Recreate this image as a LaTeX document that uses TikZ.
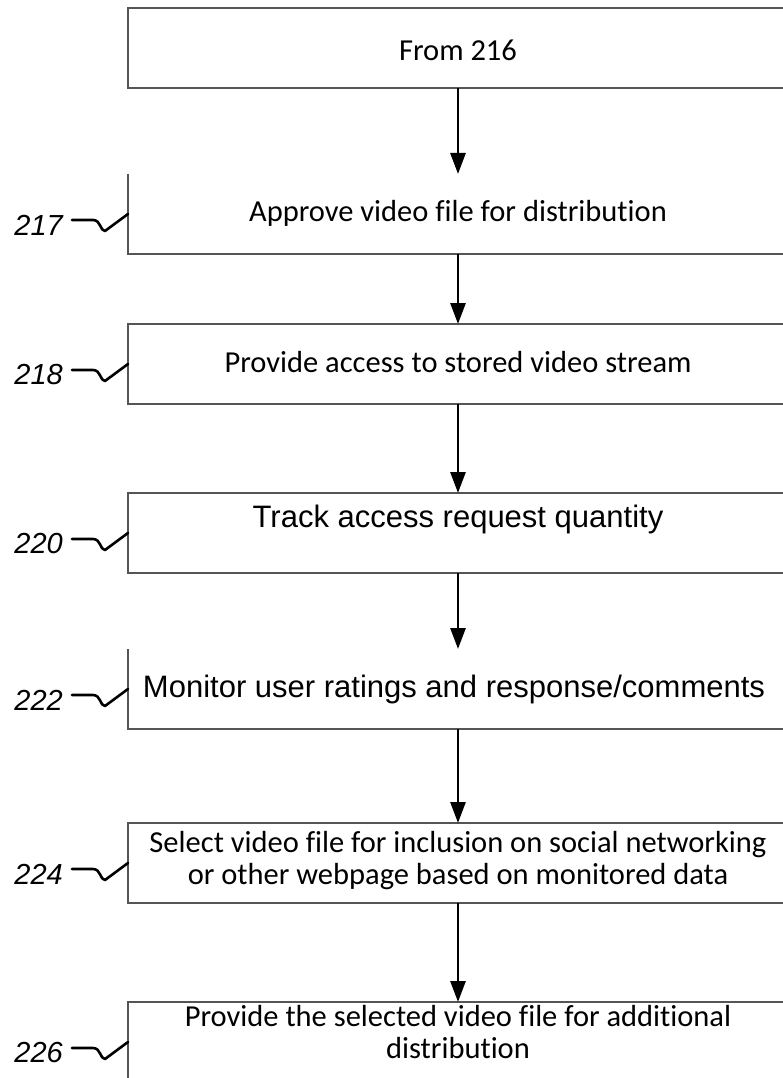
\documentclass[tikz,border=0pt]{standalone}
\usepackage{fontspec}
\setmainfont{Carlito}[Ligatures=NoCommon]
\newfontfamily\arialfont{Liberation Sans}
\usetikzlibrary{arrows.meta,calc}
\definecolor{boxgray}{HTML}{555555}
\begin{document}
\begin{tikzpicture}[x=1pt,y=-1pt,
 box/.style={minimum width=660pt, minimum height=80pt, inner sep=0pt, outer sep=0pt, anchor=north west},
 boxline/.style={draw=boxgray, line width=1.3pt},
 arr/.style={-{Triangle[length=21pt,width=15pt]}, line width=2.8pt, draw=black},
 squig/.style={line width=2.6pt, line join=round, line cap=round, draw=black},
 lbl/.style={font=\arialfont\itshape\fontsize{29}{29}\selectfont, inner sep=0pt, anchor=east},
 txt/.style={font=\fontsize{30.5}{32}\selectfont, align=center, inner sep=0pt},
 txta/.style={font=\arialfont\fontsize{31}{34}\selectfont, align=center, inner sep=0pt}]
\useasboundingbox (0,0) rectangle (783,1078);
\fill[white] (0,0) rectangle (783,1078);

% boxes
\node[box, boxline] (b1) at (128,8) {};
\node[box] (b2) at (128,174) {};
\draw[boxline] (b2.north west) -- (b2.south west) -- (b2.south east) -- (b2.north east);
\node[box, boxline] (b3) at (128,324) {};
\node[box, boxline] (b4) at (128,493) {};
\node[box] (b5) at (128,649) {};
\draw[boxline] (b5.north west) -- (b5.south west) -- (b5.south east) -- (b5.north east);
\node[box, boxline] (b6) at (128,823) {};
\node[box, boxline] (b7) at (128,1002) {};

% texts
\node[txt] (t1) at ($(b1.center)+(0,2)$) {From 216};
\node[txt] (t2) at ($(b2.center)+(0,-1)$) {Approve video file for distribution};
\node[txt] (t3) at ($(b3.center)+(0,-2)$) {Provide access to stored video stream};
\node[txta] (t4) at ($(b4.center)+(0,-14)$) {Track access request quantity};
\node[txta] (t5) at ($(b5.center)+(-4,0)$) {Monitor user ratings and response/comments};
\node[txt] (t6) at ($(b6.center)+(0,-2)$) {Select video file for inclusion on social networking\\or other webpage based on monitored data};
\node[txt] (t7) at ($(b7.center)+(0,-10)$) {Provide the selected video file for additional\\distribution};

% arrows
\draw[arr] (b1.south) -- (b2.north);
\draw[arr] (b2.south) -- (b3.north);
\draw[arr] (b3.south) -- (b4.north);
\draw[arr] (b4.south) -- (b5.north);
\draw[arr] (b5.south) -- (b6.north);
\draw[arr] (b6.south) -- (b7.north);

% reference labels
\foreach \b/\n in {b2/217, b3/218, b4/220, b5/222, b6/224, b7/226}{
  \node[lbl] (l\n) at ($(\b.west)+(-65,11)$) {\n};
  \draw[squig] ($(l\n.east)+(9,-5)$) -- ++(21,0) .. controls +(8,0) and +(-5,0) .. ++(12,11) -- (\b.west);
}
\end{tikzpicture}
\end{document}
